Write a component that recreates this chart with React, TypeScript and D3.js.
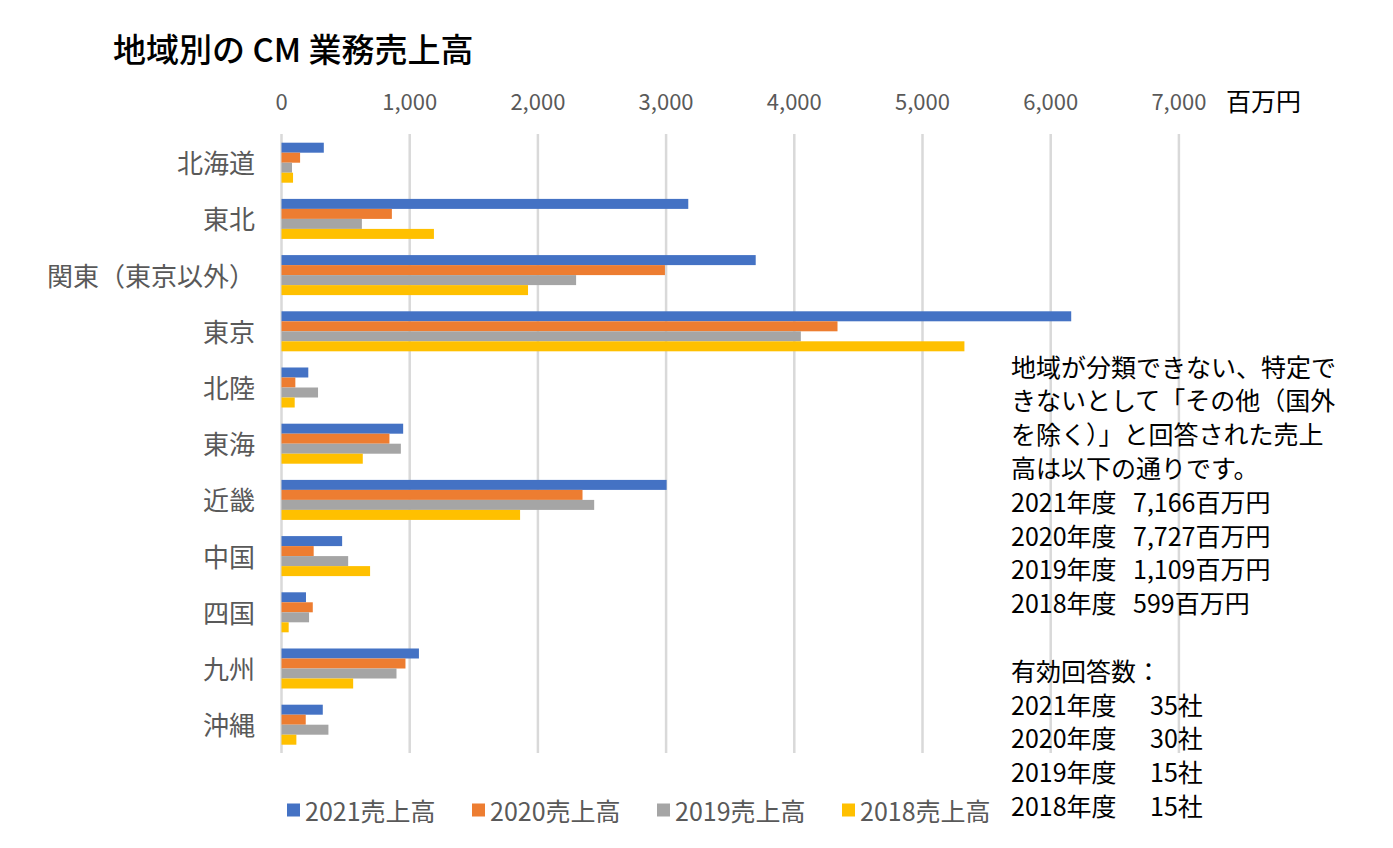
import React from "react";
import * as d3 from "d3";

const regions = ["北海道", "東北", "関東（東京以外）", "東京", "北陸", "東海", "近畿", "中国", "四国", "九州", "沖縄"];
const seriesNames = ["2021売上高", "2020売上高", "2019売上高", "2018売上高"];
const sales2021 = [330, 3173, 3699, 6160, 209, 949, 3004, 473, 191, 1072, 322];
const sales2020 = [145, 861, 2991, 4337, 108, 842, 2348, 251, 244, 967, 189];
const sales2019 = [82, 627, 2298, 4051, 285, 931, 2439, 520, 215, 897, 366];
const sales2018 = [90, 1189, 1923, 5327, 103, 634, 1861, 691, 56, 559, 116];
const xTicks = [0, 1000, 2000, 3000, 4000, 5000, 6000, 7000];
const colors = ["#4472C4", "#ED7D31", "#A5A5A5", "#FFC000"];

const noteLines = [
  "地域が分類できない、特定で",
  "きないとして「その他（国外",
  "を除く）」と回答された売上",
  "高は以下の通りです。",
];
const otherYears = ["2021年度", "2020年度", "2019年度", "2018年度"];
const otherAmounts = ["7,166百万円", "7,727百万円", "1,109百万円", "599百万円"];
const respondentsTitle = "有効回答数：";
const respondents = ["35社", "30社", "15社", "15社"];

const FONT = "'Noto Sans CJK JP', 'Noto Sans', sans-serif";

export default function App() {
  const series = [sales2021, sales2020, sales2019, sales2018];
  const x = d3.scaleLinear().domain([0, 7000]).range([281.5, 1178.9]);
  const y = d3
    .scaleBand<string>()
    .domain(regions)
    .range([134.6, 752.8])
    .paddingInner(0.288)
    .paddingOuter(0.144);
  const inner = d3
    .scaleBand<number>()
    .domain([0, 1, 2, 3])
    .range([0, y.bandwidth()]);

  const fmt = d3.format(",");
  const lineY = (i: number) => 365.5 + i * 33.8;

  return (
    <svg
      width={1393}
      height={848}
      style={{ position: "absolute", left: 0, top: 0, background: "#fff" }}
      fontFamily={FONT}
    >
      <rect width={1393} height={848} fill="#fff" />
      <text x={113} y={48} fontSize={33} fontWeight={500} fill="#000" dominantBaseline="central">
        地域別の CM 業務売上高
      </text>

      {xTicks.map((t) => (
        <g key={t}>
          <line x1={x(t)} x2={x(t)} y1={134} y2={753} stroke="#D9D9D9" strokeWidth={2.5} />
          <text
            x={x(t)}
            y={100}
            fontSize={22}
            fill="#595959"
            textAnchor="middle"
            dominantBaseline="central"
          >
            {fmt(t)}
          </text>
        </g>
      ))}
      <text x={1226} y={100} fontSize={25} fill="#000" dominantBaseline="central">
        百万円
      </text>

      {regions.map((r, ri) => (
        <g key={r}>
          {series.map((s, si) => (
            <rect
              key={si}
              x={x(0)}
              y={(y(r) as number) + (inner(si) as number)}
              width={x(s[ri]) - x(0)}
              height={inner.bandwidth()}
              fill={colors[si]}
            />
          ))}
          <text
            x={255}
            y={(y(r) as number) + y.bandwidth() / 2 - 1}
            fontSize={26}
            fill="#595959"
            textAnchor="end"
            dominantBaseline="central"
          >
            {r}
          </text>
        </g>
      ))}

      {seriesNames.map((n, i) => (
        <g key={n} transform={`translate(${287 + i * 185},0)`}>
          <rect x={0} y={803.5} width={13} height={13} fill={colors[i]} />
          <text x={18} y={810} fontSize={25} fill="#595959" dominantBaseline="central">
            {n}
          </text>
        </g>
      ))}

      <g fontSize={25} fill="#000">
        {noteLines.map((l, i) => (
          <text key={l} x={1011} y={lineY(i)} dominantBaseline="central">
            {l}
          </text>
        ))}
        {otherYears.map((yr, i) => (
          <g key={"a" + yr}>
            <text x={1011} y={lineY(4 + i)} dominantBaseline="central">
              {yr}
            </text>
            <text x={1133} y={lineY(4 + i)} dominantBaseline="central">
              {otherAmounts[i]}
            </text>
          </g>
        ))}
        <text x={1011} y={lineY(9)} dominantBaseline="central">
          {respondentsTitle}
        </text>
        {otherYears.map((yr, i) => (
          <g key={"r" + yr}>
            <text x={1011} y={lineY(10 + i)} dominantBaseline="central">
              {yr}
            </text>
            <text x={1150} y={lineY(10 + i)} dominantBaseline="central">
              {respondents[i]}
            </text>
          </g>
        ))}
      </g>
    </svg>
  );
}
